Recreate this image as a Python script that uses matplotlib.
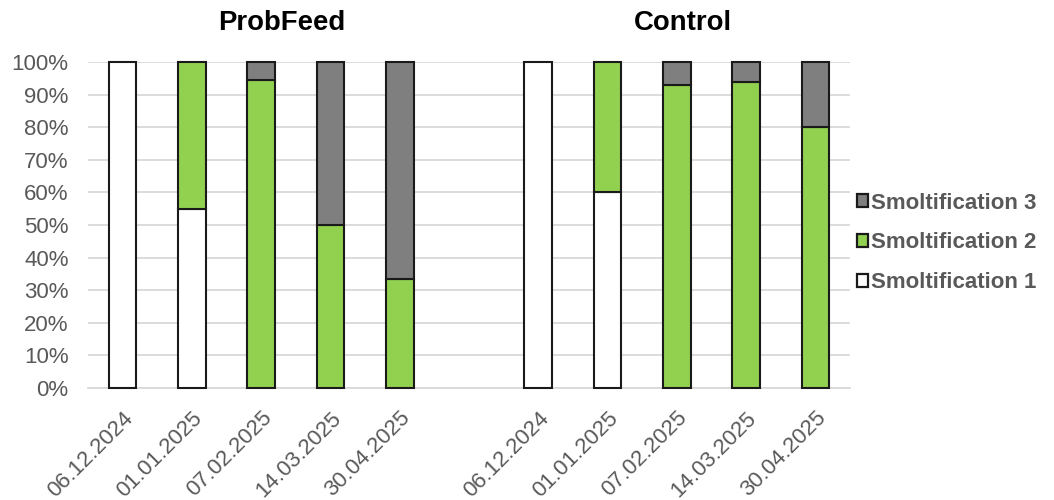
import matplotlib
matplotlib.use("Agg")
import matplotlib.pyplot as plt
from matplotlib.patches import Patch
import numpy as np

plt.rcParams['font.family'] = ['Liberation Sans', 'DejaVu Sans']

dates = ["06.12.2024", "01.01.2025", "07.02.2025", "14.03.2025", "30.04.2025"]
groups = ["ProbFeed", "Control"]

probfeed_s1 = [100, 55, 0, 0, 0]
probfeed_s2 = [0, 45, 94.4, 50, 33.3]
probfeed_s3 = [0, 0, 5.6, 50, 66.7]

control_s1 = [100, 60, 0, 0, 0]
control_s2 = [0, 40, 92.9, 93.8, 80]
control_s3 = [0, 0, 7.1, 6.2, 20]

series_names = ["Smoltification 1", "Smoltification 2", "Smoltification 3"]
colors = ["#FFFFFF", "#92D050", "#7F7F7F"]
text_gray = "#595959"

fig = plt.figure(figsize=(10.54, 5.0), dpi=100)
ax = fig.add_axes([88 / 1054, 112 / 500, 762 / 1054, 326 / 500])

x_pf = np.arange(5)
x_ct = np.arange(5) + 6
width = 0.4

for xs, s1, s2, s3 in [(x_pf, probfeed_s1, probfeed_s2, probfeed_s3),
                       (x_ct, control_s1, control_s2, control_s3)]:
    s1 = np.array(s1) / 100
    s2 = np.array(s2) / 100
    s3 = np.array(s3) / 100
    for vals, bottom, col in [(s1, np.zeros(5), colors[0]), (s2, s1, colors[1]), (s3, s1 + s2, colors[2])]:
        mask = vals > 0
        ax.bar(xs[mask], vals[mask], width, bottom=bottom[mask],
               color=col, edgecolor="#1a1a1a", linewidth=1.5, zorder=3, clip_on=False)

ax.set_xlim(-0.5, 10.5)
ax.set_ylim(0, 1)
yt = np.arange(0, 1.01, 0.1)
ax.set_yticks(yt)
ax.set_yticklabels([f"{int(round(v * 100))}%" for v in yt])
ax.yaxis.grid(True, color="#D9D9D9", linewidth=1.3, zorder=0)
ax.set_axisbelow(True)
for s in ["top", "right", "left"]:
    ax.spines[s].set_visible(False)
ax.spines["bottom"].set_color("#D9D9D9")
ax.spines["bottom"].set_linewidth(1.3)
ax.tick_params(axis="y", length=0, labelsize=16, labelcolor=text_gray, pad=14)

xticks = list(x_pf) + list(x_ct)
ax.set_xticks(xticks)
ax.set_xticklabels(dates + dates)
ax.tick_params(axis="x", length=0, labelsize=16, labelcolor=text_gray, pad=14)
for lbl in ax.get_xticklabels():
    lbl.set_rotation(45)
    lbl.set_ha("right")
    lbl.set_rotation_mode("anchor")

# group titles
ax.text(2.29, 1.12, groups[0], transform=ax.get_xaxis_transform(), ha="center", va="center",
        fontsize=19.8, fontweight="bold", color="black")
ax.text(8.09, 1.12, groups[1], transform=ax.get_xaxis_transform(), ha="center", va="center",
        fontsize=19.8, fontweight="bold", color="black")

handles = [Patch(facecolor=colors[i], edgecolor="#1a1a1a", linewidth=1.6, label=series_names[i])
           for i in [2, 1, 0]]
leg = fig.legend(handles=handles, loc="center left", bbox_to_anchor=(837 / 1054, 1 - 243 / 500),
                 frameon=False, handlelength=0.5, handleheight=0.5, handletextpad=0.15,
                 labelspacing=0.85, prop={"size": 16, "weight": "bold"})
for t in leg.get_texts():
    t.set_color(text_gray)

fig.savefig("out.png", dpi=100)
